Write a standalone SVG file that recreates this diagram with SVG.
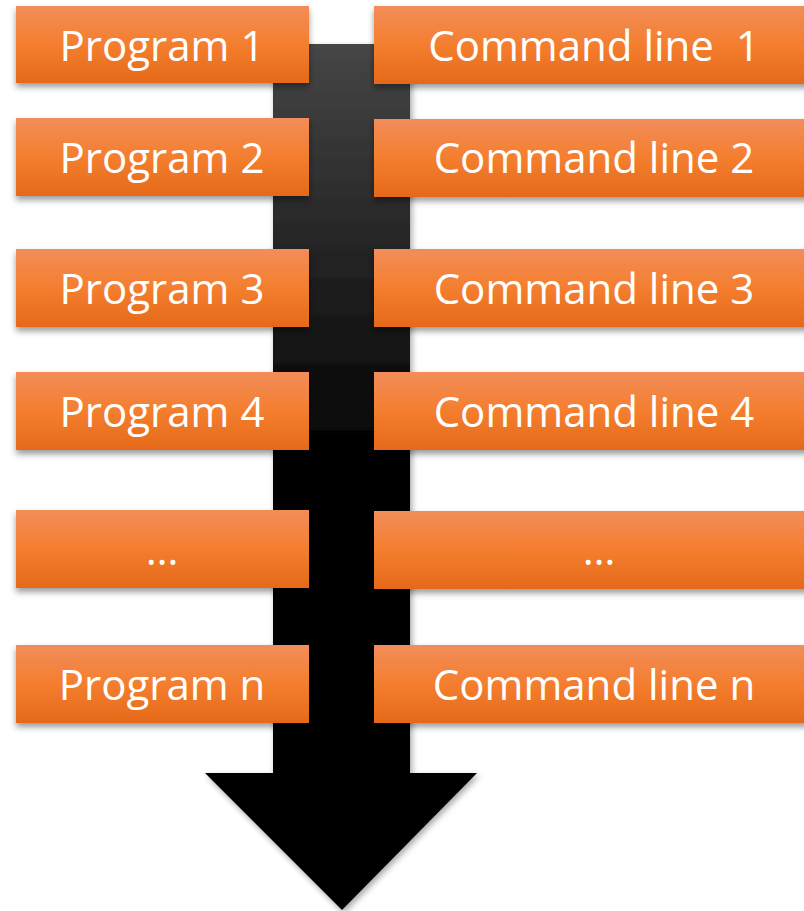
<svg xmlns="http://www.w3.org/2000/svg" width="804" height="911" viewBox="0 0 804 911">
<defs>
<linearGradient id="og" x1="0" y1="0" x2="0" y2="1">
<stop offset="0" stop-color="#F28D5A"/>
<stop offset="0.5" stop-color="#F47E2E"/>
<stop offset="1" stop-color="#E5691A"/>
</linearGradient>
<linearGradient id="ag" gradientUnits="userSpaceOnUse" x1="0" y1="44" x2="0" y2="470">
<stop offset="0" stop-color="#464646"/>
<stop offset="1" stop-color="#000000"/>
</linearGradient>
<filter id="sh" x="-10%" y="-20%" width="120%" height="150%">
<feDropShadow dx="0" dy="4" stdDeviation="3" flood-color="#000" flood-opacity="0.4"/>
</filter>
<filter id="ash" x="-10%" y="-5%" width="120%" height="115%">
<feDropShadow dx="2" dy="3" stdDeviation="3" flood-color="#000" flood-opacity="0.35"/>
</filter>
</defs>
<style>
.box{fill:url(#og);filter:url(#sh);}
.t{font-family:"Open Sans","Liberation Sans",sans-serif;font-size:42px;fill:#fff;text-anchor:middle;white-space:pre;}
</style>
<g id="connectors">
<polygon id="flow-arrow" points="273,44 410,44 410,773 477,773 342,910 205,773 273,773" fill="url(#ag)" filter="url(#ash)"/>
</g>
<g id="program-1"><rect class="box" x="16" y="6" width="293" height="77"/><text class="t" x="162" y="61">Program 1</text></g>
<g id="command-1"><rect class="box" x="374" y="6" width="440" height="78"/><text class="t" x="594" y="61" xml:space="preserve">Command line  1</text></g>
<g id="program-2"><rect class="box" x="16" y="118" width="293" height="78"/><text class="t" x="162" y="173">Program 2</text></g>
<g id="command-2"><rect class="box" x="374" y="119" width="440" height="78"/><text class="t" x="594" y="173">Command line 2</text></g>
<g id="program-3"><rect class="box" x="16" y="249" width="293" height="78"/><text class="t" x="162" y="304">Program 3</text></g>
<g id="command-3"><rect class="box" x="374" y="249" width="440" height="78"/><text class="t" x="594" y="304">Command line 3</text></g>
<g id="program-4"><rect class="box" x="16" y="372" width="293" height="78"/><text class="t" x="162" y="427">Program 4</text></g>
<g id="command-4"><rect class="box" x="374" y="372" width="440" height="78"/><text class="t" x="594" y="427">Command line 4</text></g>
<g id="program-etc"><rect class="box" x="16" y="510" width="293" height="78"/><text class="t" x="162" y="565">…</text></g>
<g id="command-etc"><rect class="box" x="374" y="511" width="440" height="78"/><text class="t" x="599" y="565">…</text></g>
<g id="program-n"><rect class="box" x="16" y="645" width="293" height="78"/><text class="t" x="162" y="700">Program n</text></g>
<g id="command-n"><rect class="box" x="374" y="645" width="440" height="78"/><text class="t" x="594" y="700">Command line n</text></g>
</svg>
